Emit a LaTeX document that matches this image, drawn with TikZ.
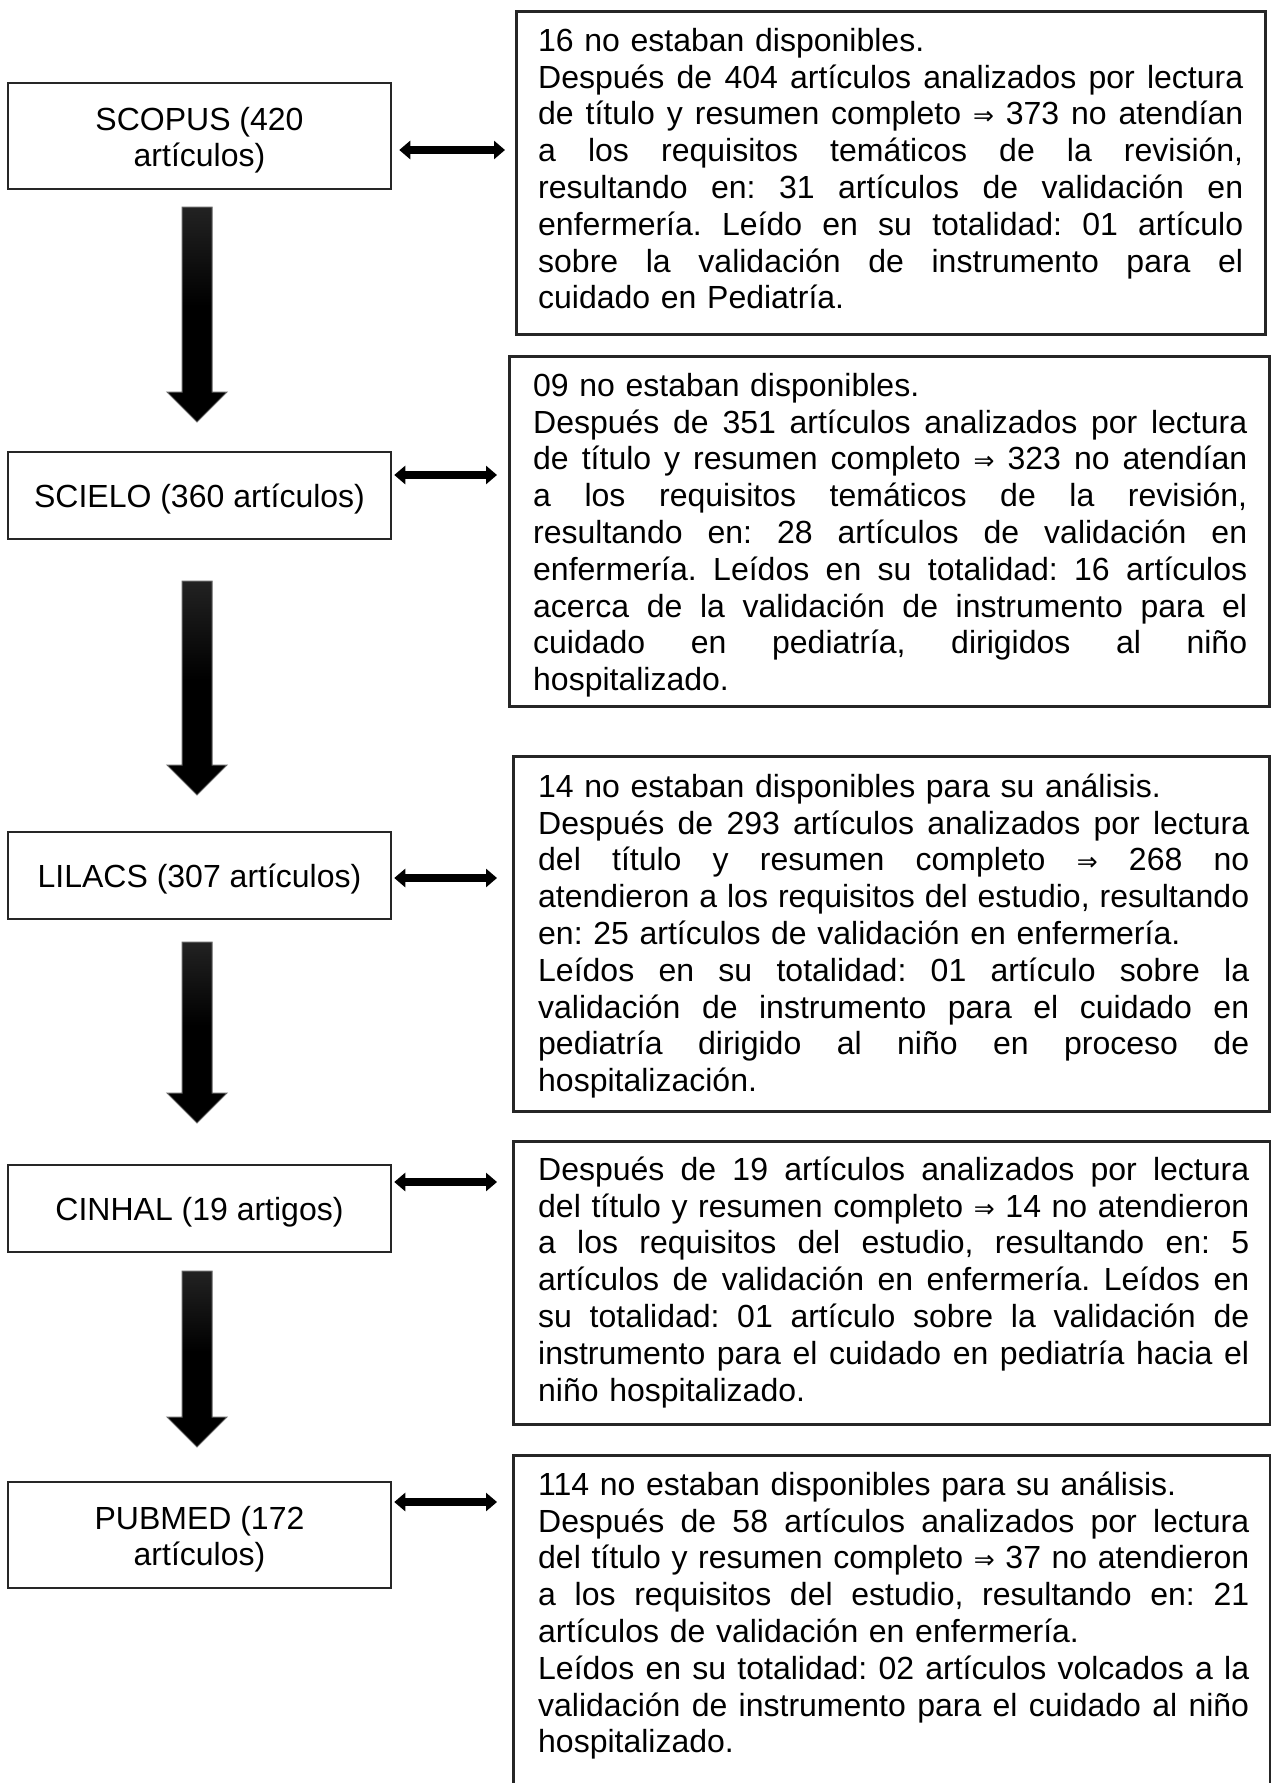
\documentclass[tikz,border=0pt]{standalone}
\usepackage{fontspec}
\setmainfont{Liberation Sans}
\newfontfamily\symfont{DejaVu Sans}
\usetikzlibrary{arrows.meta,calc}
\pgfdeclareverticalshading{fatshade}{100bp}{color(0bp)=(black); color(52bp)=(black); color(100bp)=(black!72)}
\newlength\tw
\newcommand\jl[1]{\makebox[\tw][s]{\spaceskip=0pt\xspaceskip=0pt #1}\\}
\newcommand\impl{{\symfont\fontsize{25pt}{36.8pt}\selectfont ⇒}}
\newcommand\bigtext{\fontsize{32pt}{36.8pt}\selectfont}
\newcommand\twolines[2]{\parbox[t]{383pt}{\centering #1\\#2}}
\newcommand\fatarrow[2]{\path[shade, shading=fatshade, draw=black!60, line width=1pt]
  ($(#1)+(-15,0)$) -- ($(#1)+(15,0)$) -- ($(#2)+(15,-30)$) -- ($(#2)+(30,-30)$) -- (#2)
  -- ($(#2)+(-30,-30)$) -- ($(#2)+(-15,-30)$) -- cycle;}
\lineskiplimit=-100pt
\lineskip=0pt
\tikzset{
  dbbox/.style={draw=black!85, line width=2.5pt, fill=white, minimum width=383pt, inner sep=0pt, font=\bigtext},
  oneline/.style={minimum height=87pt, text height=29.5pt, text depth=5.5pt},
  twoline/.style={minimum height=106pt, text height=32pt, text depth=44pt},
  sidebox/.style={draw=black!85, line width=2.5pt, anchor=north west, inner sep=0pt},
  sidetext/.style={anchor=north west, inner sep=0pt, align=left, font=\bigtext},
  dbl/.style={line width=8pt, black, {Triangle[width=18pt,length=11pt]}-{Triangle[width=18pt,length=11pt]}}
}
\begin{document}
\frenchspacing
\begin{tikzpicture}[x=1pt, y=-1pt]
\useasboundingbox (0,0) rectangle (1271,1783);
\fill[white] (0,0) rectangle (1271,1783);
\clip (0,0) rectangle (1271,1783);

% left database boxes
\node[dbbox, twoline] (b1) at (199.5,136) {\twolines{SCOPUS (420}{artículos)}};
\node[dbbox, oneline] (b2) at (199.5,495.5) {SCIELO (360 artículos)};
\node[dbbox, oneline] (b3) at (199.5,875.5) {LILACS (307 artículos)};
\node[dbbox, oneline] (b4) at (199.5,1208.5) {CINHAL (19 artigos)};
\node[dbbox, twoline] (b5) at (199.5,1535) {\twolines{PUBMED (172}{artículos)}};

% right boxes
\node[sidebox, minimum width=749pt, minimum height=323pt] (r1) at (515,10) {};
\node[sidebox, minimum width=760pt, minimum height=350pt] (r2) at (508,355) {};
\node[sidebox, minimum width=756pt, minimum height=355pt] (r3) at (512,755) {};
\node[sidebox, minimum width=757pt, minimum height=283pt] (r4) at (512,1140) {};
\node[sidebox, minimum width=757pt, minimum height=420pt] (r5) at (512,1454) {};

\node[sidetext, text width=705pt] (t1) at (538,21) {\setlength\tw{705pt}\rule{0pt}{30pt}16 no estaban disponibles.\\
\jl{Después de 404 artículos analizados por lectura}
\jl{de título y resumen completo \impl{} 373 no atendían}
\jl{a los requisitos temáticos de la revisión,}
\jl{resultando en: 31 artículos de validación en}
\jl{enfermería. Leído en su totalidad: 01 artículo}
\jl{sobre la validación de instrumento para el}
cuidado en Pediatría.};

\node[sidetext, text width=714pt] (t2) at (533,366) {\setlength\tw{714pt}\rule{0pt}{30pt}09 no estaban disponibles.\\
\jl{Después de 351 artículos analizados por lectura}
\jl{de título y resumen completo \impl{} 323 no atendían}
\jl{a los requisitos temáticos de la revisión,}
\jl{resultando en: 28 artículos de validación en}
\jl{enfermería. Leídos en su totalidad: 16 artículos}
\jl{acerca de la validación de instrumento para el}
\jl{cuidado en pediatría, dirigidos al niño}
hospitalizado.};

\node[sidetext, text width=711pt] (t3) at (538,767) {\setlength\tw{711pt}\rule{0pt}{30pt}14 no estaban disponibles para su análisis.\\
\jl{Después de 293 artículos analizados por lectura}
\jl{del título y resumen completo \impl{} 268 no}
\jl{atendieron a los requisitos del estudio, resultando}
en: 25 artículos de validación en enfermería.\\
\jl{Leídos en su totalidad: 01 artículo sobre la}
\jl{validación de instrumento para el cuidado en}
\jl{pediatría dirigido al niño en proceso de}
hospitalización.};

\node[sidetext, text width=711pt] (t4) at (538,1150) {\setlength\tw{711pt}\rule{0pt}{30pt}\jl{Después de 19 artículos analizados por lectura}
\jl{del título y resumen completo \impl{} 14 no atendieron}
\jl{a los requisitos del estudio, resultando en: 5}
\jl{artículos de validación en enfermería. Leídos en}
\jl{su totalidad: 01 artículo sobre la validación de}
\jl{instrumento para el cuidado en pediatría hacia el}
niño hospitalizado.};

\node[sidetext, text width=711pt] (t5) at (538,1465) {\setlength\tw{711pt}\rule{0pt}{30pt}114 no estaban disponibles para su análisis.\\
\jl{Después de 58 artículos analizados por lectura}
\jl{del título y resumen completo \impl{} 37 no atendieron}
\jl{a los requisitos del estudio, resultando en: 21}
artículos de validación en enfermería.\\
\jl{Leídos en su totalidad: 02 artículos volcados a la}
\jl{validación de instrumento para el cuidado al niño}
hospitalizado.};

% down arrows
\coordinate (a1t) at (197,207);  \coordinate (a1h) at (197,422);
\coordinate (a2t) at (197,581);  \coordinate (a2h) at (197,795);
\coordinate (a3t) at (197,942);  \coordinate (a3h) at (197,1123);
\coordinate (a4t) at (197,1271); \coordinate (a4h) at (197,1447);
\fatarrow{a1t}{a1h}
\fatarrow{a2t}{a2h}
\fatarrow{a3t}{a3h}
\fatarrow{a4t}{a4h}

% double arrows
\coordinate (d1) at (450,150);
\coordinate (d2) at (450,475);
\coordinate (d3) at (450,878);
\coordinate (d4) at (450,1182);
\coordinate (d5) at (450,1502);
\draw[dbl, shorten <=7pt, shorten >=10pt] (b1.east |- d1) -- (r1.west |- d1);
\draw[dbl, shorten <=2pt, shorten >=11pt] (b2.east |- d2) -- (r2.west |- d2);
\draw[dbl, shorten <=2pt, shorten >=15pt] (b3.east |- d3) -- (r3.west |- d3);
\draw[dbl, shorten <=2pt, shorten >=15pt] (b4.east |- d4) -- (r4.west |- d4);
\draw[dbl, shorten <=2pt, shorten >=15pt] (b5.east |- d5) -- (r5.west |- d5);
\end{tikzpicture}
\end{document}
